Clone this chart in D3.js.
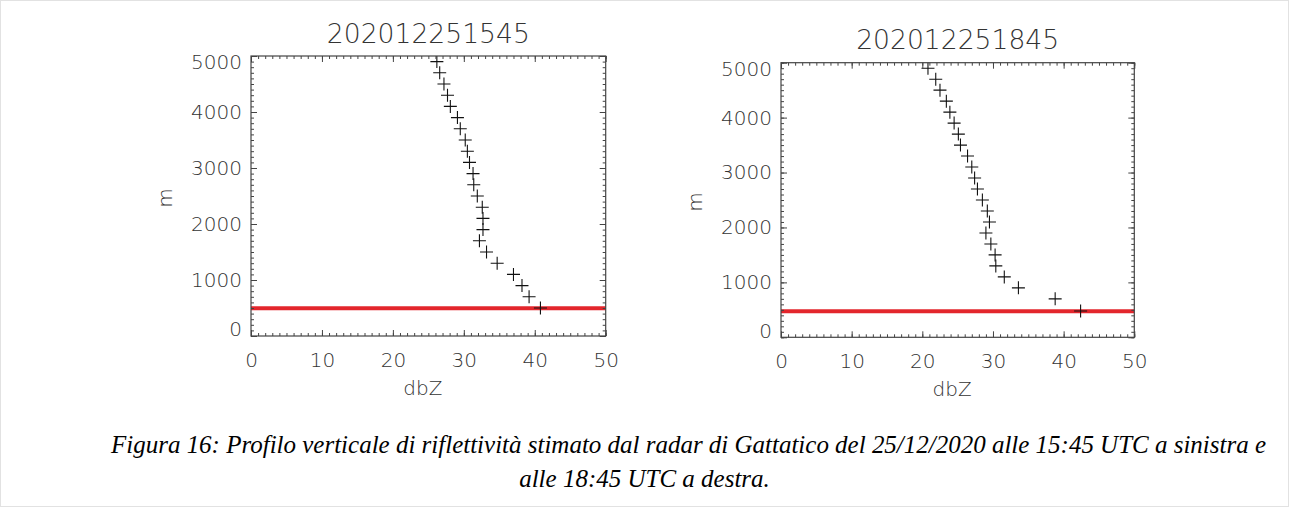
<!DOCTYPE html>
<html>
<head>
<meta charset="utf-8">
<script src="https://cdn.jsdelivr.net/npm/d3@7"></script>
<style>
  html, body { margin: 0; padding: 0; background: #fff; }
  svg { display: block; }
  .lbl { font-family: 'DejaVu Sans', 'Liberation Sans', sans-serif; font-weight: 200; fill: #333; }
  .cap { font-family: 'Liberation Serif', 'Times New Roman', serif; font-style: italic; fill: #000; }
</style>
</head>
<body>
<script>
// ---------------- DATA ----------------
const titles = ["202012251545", "202012251845"];
const xTicks = [0, 10, 20, 30, 40, 50];
const yTicks = [0, 1000, 2000, 3000, 4000, 5000];
const xLabel = "dbZ";
const yLabel = "m";

// Left profile (15:45 UTC)
const heightsLeft = [4900, 4700, 4500, 4300, 4100, 3900, 3700, 3500, 3300, 3100, 2900, 2700,
                     2500, 2300, 2100, 1900, 1700, 1500, 1300, 1100, 900, 700, 500];
const dbzLeft = [26.2, 26.6, 27.2, 27.7, 28.1, 29.1, 29.5, 30.2, 30.5, 30.8, 31.3, 31.4,
                 31.9, 32.6, 32.7, 32.7, 32.2, 33.2, 34.7, 37.0, 38.2, 39.2, 40.8];
const redLevelLeft = 495;

// Right profile (18:45 UTC)
const heightsRight = [4900, 4700, 4500, 4300, 4100, 3900, 3700, 3500, 3300, 3100, 2900, 2700,
                      2500, 2300, 2100, 1900, 1700, 1500, 1300, 1100, 900, 700, 480];
const dbzRight = [20.8, 21.9, 22.5, 23.4, 23.9, 24.5, 25.1, 25.4, 26.4, 27.0, 27.4, 27.8,
                  28.5, 29.2, 29.5, 29.0, 29.7, 30.3, 30.4, 31.6, 33.6, 38.8, 42.4];
const redLevelRight = 475;

const captionLine1 = "Figura 16: Profilo verticale di riflettività stimato dal radar di Gattatico del 25/12/2020 alle 15:45 UTC a sinistra e";
const captionLine2 = "alle 18:45 UTC a destra.";

// ---------------- DRAW ----------------
const W = 1289, H = 507;
const svg = d3.select("body").append("svg").attr("width", W).attr("height", H);

svg.append("rect").attr("x", 0.5).attr("y", 0.5).attr("width", W - 1).attr("height", H - 1)
  .attr("fill", "none").attr("stroke", "#e2e2e2");

function panel(id, box, title, dbz, heights, redLevel) {
  const x = d3.scaleLinear().domain([0, 50]).range([box.left, box.right]);
  const y = d3.scaleLinear().domain([0, 5000]).range([box.bottom, box.top]);
  const g = svg.append("g");
  const pw = box.right - box.left, ph = box.bottom - box.top;

  g.append("clipPath").attr("id", "clip" + id)
    .append("rect").attr("x", box.left).attr("y", box.top).attr("width", pw).attr("height", ph);

  // red line
  g.append("line").attr("clip-path", `url(#clip${id})`)
    .attr("x1", x(0)).attr("x2", x(50)).attr("y1", y(redLevel)).attr("y2", y(redLevel))
    .attr("stroke", "#e3262c").attr("stroke-width", 4);

  // crosses
  const pts = dbz.map((d, i) => ({ v: d, h: heights[i] }));
  const s = 6.5;
  g.append("g").attr("clip-path", `url(#clip${id})`)
    .selectAll("path").data(pts).join("path")
    .attr("d", d => `M${x(d.v) - s},${y(d.h)}H${x(d.v) + s}M${x(d.v)},${y(d.h) - s}V${y(d.h) + s}`)
    .attr("stroke", "#111").attr("stroke-width", 1.1).attr("fill", "none");

  const minorX = d3.range(0, 51, 1);
  const minorY = d3.range(0, 5001, 100);
  const tickStyle = sel => {
    sel.select(".domain").remove();
    sel.selectAll(".tick line").attr("stroke", "#444").attr("stroke-width", 1);
  };

  // minor ticks all sides
  g.append("g").attr("transform", `translate(0,${box.bottom})`)
    .call(d3.axisBottom(x).tickValues(minorX).tickSize(-3).tickFormat("")).call(tickStyle);
  g.append("g").attr("transform", `translate(0,${box.top})`)
    .call(d3.axisTop(x).tickValues(minorX).tickSize(-3).tickFormat("")).call(tickStyle);
  g.append("g").attr("transform", `translate(${box.left},0)`)
    .call(d3.axisLeft(y).tickValues(minorY).tickSize(-3).tickFormat("")).call(tickStyle);
  g.append("g").attr("transform", `translate(${box.right},0)`)
    .call(d3.axisRight(y).tickValues(minorY).tickSize(-3).tickFormat("")).call(tickStyle);

  // major ticks
  const bx = g.append("g").attr("transform", `translate(0,${box.bottom})`)
    .call(d3.axisBottom(x).tickValues(xTicks).tickSize(-6).tickPadding(17).tickFormat(d3.format("d")))
    .call(tickStyle);
  bx.selectAll("text").attr("class", "lbl").attr("font-size", 20).attr("fill", "#333");
  g.append("g").attr("transform", `translate(0,${box.top})`)
    .call(d3.axisTop(x).tickValues(xTicks).tickSize(-6).tickFormat("")).call(tickStyle);
  const ly = g.append("g").attr("transform", `translate(${box.left},0)`)
    .call(d3.axisLeft(y).tickValues(yTicks).tickSize(-6).tickPadding(9).tickFormat(d3.format("d")))
    .call(tickStyle);
  ly.selectAll("text").attr("class", "lbl").attr("font-size", 20).attr("fill", "#333")
    .attr("y", d => d === 5000 ? 6.5 : (d === 0 ? -6.5 : 0));
  g.append("g").attr("transform", `translate(${box.right},0)`)
    .call(d3.axisRight(y).tickValues(yTicks).tickSize(-6).tickFormat("")).call(tickStyle);

  g.selectAll("g").attr("font-family", null);

  // frame
  g.append("rect").attr("x", box.left).attr("y", box.top).attr("width", pw).attr("height", ph)
    .attr("fill", "none").attr("stroke", "#444").attr("stroke-width", 1.2);

  // title
  g.append("text").attr("class", "lbl").attr("x", (box.left + box.right) / 2).attr("y", box.top - 13.5)
    .attr("text-anchor", "middle").attr("font-size", 26.6).text(title);
  // x label
  g.append("text").attr("class", "lbl").attr("x", (box.left + box.right) / 2 - 5.5).attr("y", box.bottom + 59)
    .attr("text-anchor", "middle").attr("font-size", 20).text(xLabel);
  // y label
  const cy = (box.top + box.bottom) / 2 + 2;
  g.append("text").attr("class", "lbl")
    .attr("transform", `translate(${box.left - 79},${cy}) rotate(-90)`)
    .attr("text-anchor", "middle").attr("font-size", 20).text(yLabel);
}

panel("L", { left: 251, right: 605.7, top: 56, bottom: 336 }, titles[0], dbzLeft, heightsLeft, redLevelLeft);
panel("R", { left: 781, right: 1134.3, top: 62.7, bottom: 337.3 }, titles[1], dbzRight, heightsRight, redLevelRight);

// caption
svg.append("text").attr("class", "cap").attr("x", 111).attr("y", 453).attr("font-size", 25)
  .attr("textLength", 1155).attr("lengthAdjust", "spacing").text(captionLine1);
svg.append("text").attr("class", "cap").attr("x", 644.5).attr("y", 486.5).attr("font-size", 25)
  .attr("text-anchor", "middle").text(captionLine2);
</script>
</body>
</html>
